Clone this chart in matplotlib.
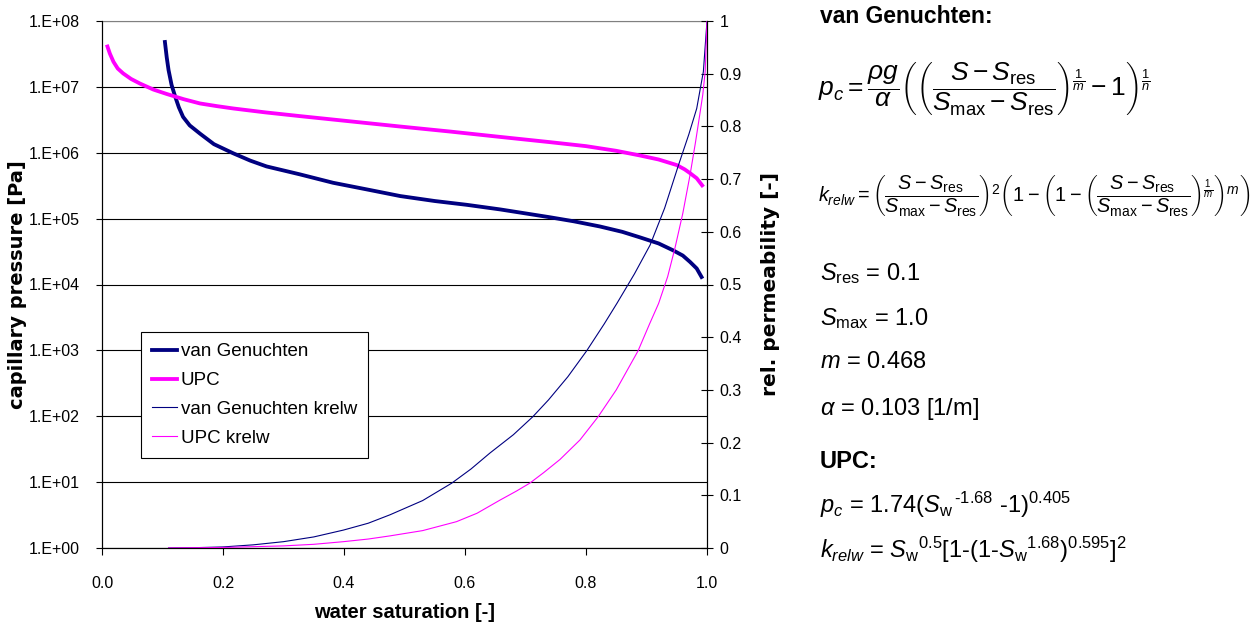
import numpy as np
import matplotlib
import matplotlib.pyplot as plt
from matplotlib.ticker import NullLocator

matplotlib.use("Agg")

# Figure size in pixels
W, H = 1256, 625

# Water saturation [-] and capillary pressure [Pa], van Genuchten
vg_sat = [0.104, 0.107, 0.110, 0.115, 0.121, 0.127, 0.134, 0.145, 0.162, 0.185,
          0.217, 0.245, 0.272, 0.327, 0.382, 0.44, 0.493, 0.55, 0.603, 0.658,
          0.70, 0.740, 0.78, 0.823, 0.86, 0.889, 0.92, 0.944, 0.96, 0.972,
          0.983, 0.991]
vg_pc = [4.8e7, 2.8e7, 1.8e7, 1.07e7, 7.1e6, 4.9e6, 3.5e6, 2.6e6, 1.95e6, 1.35e6,
         9.8e5, 7.6e5, 6.2e5, 4.7e5, 3.5e5, 2.75e5, 2.2e5, 1.85e5, 1.62e5, 1.38e5,
         1.2e5, 1.05e5, 9.1e4, 7.6e4, 6.3e4, 5.2e4, 4.2e4, 3.3e4, 2.75e4, 2.2e4,
         1.75e4, 1.3e4]

# UPC capillary pressure
upc_sat = [0.009, 0.013, 0.019, 0.026, 0.035, 0.048, 0.063, 0.085, 0.107, 0.135,
           0.162, 0.19, 0.217, 0.27, 0.327, 0.41, 0.493, 0.575, 0.658, 0.740,
           0.80, 0.85, 0.889, 0.92, 0.950, 0.963, 0.972, 0.983, 0.992]
upc_pc = [4.1e7, 3.2e7, 2.4e7, 1.9e7, 1.6e7, 1.32e7, 1.12e7, 9.1e6, 7.8e6, 6.5e6,
          5.6e6, 5.1e6, 4.7e6, 4.1e6, 3.6e6, 3.0e6, 2.5e6, 2.1e6, 1.74e6, 1.45e6,
          1.26e6, 1.07e6, 9.1e5, 7.9e5, 6.5e5, 5.6e5, 4.9e5, 4.1e5, 3.2e5]

# Relative permeability, van Genuchten
vg_kr_sat = [0.11, 0.15, 0.2, 0.25, 0.3, 0.35, 0.399, 0.44, 0.476, 0.53,
             0.578, 0.61, 0.641, 0.68, 0.712, 0.738, 0.77, 0.801, 0.83, 0.851,
             0.88, 0.906, 0.93, 0.953, 0.97, 0.983, 0.994, 1.0]
vg_kr = [0.0, 0.0005, 0.002, 0.006, 0.012, 0.021, 0.034, 0.047, 0.063, 0.09,
         0.123, 0.15, 0.180, 0.215, 0.249, 0.281, 0.325, 0.374, 0.425, 0.464,
         0.52, 0.575, 0.645, 0.727, 0.785, 0.834, 0.904, 1.0]

# Relative permeability, UPC
upc_kr_sat = [0.11, 0.2, 0.3, 0.35, 0.399, 0.44, 0.476, 0.53, 0.586, 0.62,
              0.658, 0.685, 0.707, 0.73, 0.757, 0.79, 0.820, 0.85, 0.886, 0.905,
              0.920, 0.935, 0.947, 0.96, 0.972, 0.981, 0.988, 0.993, 0.997, 1.0]
upc_kr = [0.0, 0.001, 0.004, 0.007, 0.012, 0.017, 0.023, 0.033, 0.050, 0.066,
          0.091, 0.108, 0.123, 0.143, 0.168, 0.205, 0.249, 0.30, 0.374, 0.425,
          0.464, 0.515, 0.569, 0.635, 0.708, 0.77, 0.822, 0.86, 0.904, 1.0]

# Ticks
x_ticks = [0.0, 0.2, 0.4, 0.6, 0.8, 1.0]
x_tick_labels = ["0.0", "0.2", "0.4", "0.6", "0.8", "1.0"]
pc_ticks = [1e0, 1e1, 1e2, 1e3, 1e4, 1e5, 1e6, 1e7, 1e8]
pc_tick_labels = ["1.E+00", "1.E+01", "1.E+02", "1.E+03", "1.E+04",
                  "1.E+05", "1.E+06", "1.E+07", "1.E+08"]
kr_ticks = [0.0, 0.1, 0.2, 0.3, 0.4, 0.5, 0.6, 0.7, 0.8, 0.9, 1.0]
kr_tick_labels = ["0", "0.1", "0.2", "0.3", "0.4", "0.5", "0.6", "0.7", "0.8", "0.9", "1"]

NAVY = "#000080"
MAGENTA = "#FF00FF"
SANS = ["Liberation Sans", "DejaVu Sans"]

plt.rcParams["font.family"] = SANS
plt.rcParams["mathtext.fontset"] = "custom"
plt.rcParams["mathtext.rm"] = "Liberation Sans"
plt.rcParams["mathtext.it"] = "Liberation Sans:italic"
plt.rcParams["mathtext.bf"] = "Liberation Sans:bold"


def px(x, y):
    """pixel position -> figure fraction"""
    return x / W, 1 - y / H


fig = plt.figure(figsize=(W / 100, H / 100), dpi=100)
ax = fig.add_axes([102 / W, 1 - 548 / H, 605 / W, 527 / H])

l1, = ax.plot(vg_sat, vg_pc, color=NAVY, lw=2.75, label="van Genuchten")
l2, = ax.plot(upc_sat, upc_pc, color=MAGENTA, lw=2.75, label="UPC")
ax.set_yscale("log")
ax.set_xlim(0, 1)
ax.set_ylim(1, 1e8)
ax.set_yticks(pc_ticks, pc_tick_labels)
ax.yaxis.set_minor_locator(NullLocator())
ax.set_xticks(x_ticks, x_tick_labels)
ax.grid(axis="y", color="black", lw=0.8)
ax.tick_params(axis="y", direction="out", length=4, width=0.8, pad=12, labelsize=11.5)
ax.tick_params(axis="x", direction="out", length=5, width=0.8, pad=15, labelsize=11.5)
ax.spines["top"].set_color("#808080")
for s in ["left", "bottom", "right"]:
    ax.spines[s].set_color("black")
    ax.spines[s].set_linewidth(0.8)

ax.set_xlabel("water saturation [-]", fontsize=14.5, fontweight="bold")
ax.xaxis.label.set_verticalalignment("center")
ax.xaxis.set_label_coords(0.5, -(612 - 548) / 527)
ax.set_ylabel("capillary pressure [Pa]", fontsize=14, fontweight="bold",
              family="DejaVu Sans")
ax.yaxis.label.set_verticalalignment("center")
ax.yaxis.set_label_coords(-(102 - 18) / 605, 0.5)

ax2 = ax.twinx()
l3, = ax2.plot(vg_kr_sat, vg_kr, color=NAVY, lw=0.8, label="van Genuchten krelw")
l4, = ax2.plot(upc_kr_sat, upc_kr, color=MAGENTA, lw=0.8, label="UPC krelw")
ax2.set_ylim(0, 1)
ax2.set_yticks(kr_ticks, kr_tick_labels)
ax2.tick_params(axis="y", direction="inout", length=8, width=0.8, pad=5, labelsize=11.5)
ax2.spines["right"].set_color("black")
ax2.spines["right"].set_linewidth(0.8)
ax2.spines["top"].set_visible(False)
ax2.set_ylabel("rel. permeability [-]", fontsize=14.5, fontweight="bold",
               family="DejaVu Sans")
ax2.yaxis.label.set_verticalalignment("center")
ax2.yaxis.set_label_coords((770 - 102) / 605, 0.5)

leg = ax2.legend(handles=[l1, l2, l3, l4], loc="upper left",
                 bbox_to_anchor=px(141, 332), bbox_transform=fig.transFigure,
                 borderaxespad=0, fontsize=13.5, handlelength=1.33, handletextpad=0.2,
                 labelspacing=0.62, borderpad=0.6, fancybox=False, framealpha=1,
                 edgecolor="black")
leg.get_frame().set_linewidth(0.8)

# Equations panel
fig.text(*px(820, 23), "van Genuchten:", fontsize=16.5, fontweight="bold", va="baseline")

frac = r"\dfrac{S - S_{\mathrm{res}}}{S_{\mathrm{max}} - S_{\mathrm{res}}}"
eq_pc = (r"$p_c = \dfrac{\rho g}{\alpha}\left(\left(" + frac +
         r"\right)^{\frac{1}{m}} - 1\right)^{\frac{1}{n}}$")
eq_kr = (r"$k_{relw} = \left(" + frac + r"\right)^2\left(1 - \left(1 - \left(" + frac +
         r"\right)^{\frac{1}{m}}\right)^m\right)$")
fig.text(*px(818, 90), eq_pc, fontsize=19, va="center")
fig.text(*px(818, 196), eq_kr, fontsize=14.3, va="center")

param_lines = [
    (280, r"$S_{\mathrm{res}}$ = 0.1", "normal"),
    (325, r"$S_{\mathrm{max}}$ = 1.0", "normal"),
    (368, r"$m$ = 0.468", "normal"),
    (415, r"$\alpha$ = 0.103 [1/m]", "normal"),
    (468, "UPC:", "bold"),
    (513, r"$p_c$ = 1.74($S_{\mathrm{w}}$$^{\,\text{-1.68}}$ -1)$^{0.405}$", "normal"),
    (558, r"$k_{relw}$ = $S_{\mathrm{w}}$$^{0.5}$[1-(1-$S_{\mathrm{w}}$$^{1.68}$)$^{0.595}$]$^{2}$", "normal"),
]
for y, txt, wt in param_lines:
    fig.text(*px(820, y), txt, fontsize=17, fontweight=wt, va="baseline")

fig.savefig("out.png", dpi=100)
